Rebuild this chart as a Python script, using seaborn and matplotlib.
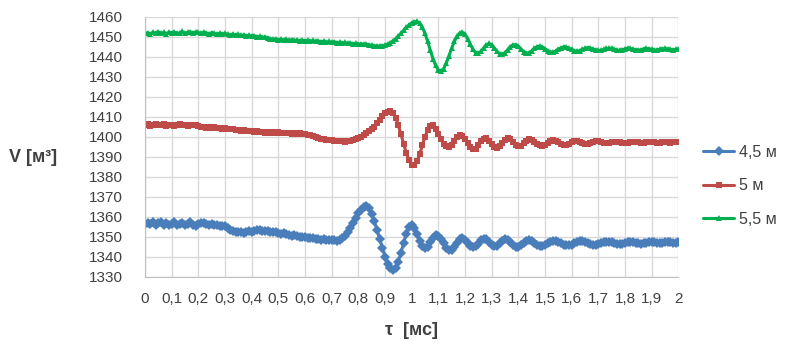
import numpy as np
import pandas as pd
import matplotlib
matplotlib.use("Agg")
import matplotlib.pyplot as plt
import seaborn as sns

# time axis, ms (step 0.01)
t = np.round(np.arange(0, 201) * 0.01, 2)

v_45 = [
    1356.5, 1357.0, 1356.2, 1357.3, 1356.0, 1356.8, 1357.5, 1356.1, 1356.9, 1355.8,
    1356.6, 1357.2, 1355.9, 1356.4, 1357.0, 1355.7, 1356.3, 1357.4, 1356.0, 1355.6,
    1356.2, 1356.9, 1357.1, 1356.3, 1355.8, 1356.5, 1356.0, 1355.9, 1355.4, 1355.6,
    1355.2, 1354.5, 1353.6, 1352.9, 1352.5, 1352.2, 1352.6, 1352.1, 1352.4, 1352.8,
    1352.5, 1353.0, 1353.2, 1353.4, 1353.0, 1352.7, 1352.9, 1352.5, 1352.6, 1352.2,
    1352.0, 1351.6, 1351.8, 1351.2, 1350.8, 1350.5, 1350.9, 1350.4, 1350.1, 1349.8,
    1350.0, 1349.6, 1349.3, 1349.5, 1349.0, 1348.8, 1348.6, 1348.9, 1348.4, 1348.5,
    1348.2, 1348.4, 1348.1, 1348.6, 1349.2, 1350.6, 1352.5, 1354.6, 1357.0, 1359.4,
    1361.8, 1363.6, 1365.0, 1365.4, 1364.2, 1361.5, 1357.8, 1353.5, 1349.0, 1344.5,
    1340.0, 1336.6, 1334.3, 1333.3, 1334.4, 1337.6, 1342.0, 1347.0, 1351.6, 1354.8,
    1355.8, 1354.6, 1351.6, 1348.0, 1345.2, 1344.2, 1345.0, 1347.2, 1349.6, 1350.9,
    1350.6, 1349.0, 1346.8, 1344.6, 1343.4, 1343.6, 1345.0, 1347.0, 1348.8, 1349.3,
    1348.4, 1346.8, 1345.3, 1344.8, 1345.2, 1346.6, 1348.2, 1349.1, 1348.9, 1347.5,
    1346.0, 1345.3, 1345.6, 1346.8, 1348.1, 1348.8, 1348.4, 1347.2, 1345.8, 1345.0,
    1345.1, 1345.9, 1347.1, 1348.0, 1348.3, 1347.8, 1346.9, 1346.0, 1345.5, 1345.4,
    1345.9, 1346.8, 1347.6, 1348.0, 1348.1, 1347.6, 1346.8, 1346.1, 1345.8, 1345.7,
    1346.1, 1346.8, 1347.4, 1347.8, 1347.9, 1347.5, 1346.9, 1346.4, 1346.1, 1346.1,
    1346.4, 1346.9, 1347.4, 1347.6, 1347.6, 1347.2, 1346.8, 1346.5, 1346.4, 1346.6,
    1347.0, 1347.4, 1347.5, 1347.3, 1347.0, 1346.7, 1346.6, 1346.8, 1347.1, 1347.4,
    1347.4, 1347.2, 1346.9, 1346.8, 1347.0, 1347.3, 1347.5, 1347.4, 1347.1, 1347.0,
    1347.2,
]

v_5 = [
    1405.8, 1406.2, 1405.5, 1405.9, 1406.3, 1405.6, 1405.8, 1406.1, 1405.4, 1405.9,
    1406.0, 1405.5, 1405.8, 1406.2, 1405.6, 1405.9, 1405.3, 1405.7, 1406.0, 1405.8,
    1405.2, 1404.6, 1405.0, 1404.5, 1404.9, 1404.4, 1404.7, 1404.2, 1404.5, 1404.0,
    1404.3, 1403.9, 1403.6, 1403.8, 1403.3, 1403.5, 1403.0, 1403.2, 1402.8, 1402.6,
    1402.9, 1402.4, 1402.6, 1402.2, 1402.5, 1402.0, 1402.3, 1401.9, 1402.2, 1401.8,
    1402.1, 1401.7, 1402.0, 1401.6, 1401.9, 1401.5, 1401.8, 1401.4, 1401.7, 1401.3,
    1401.4, 1401.0, 1400.6, 1400.1, 1399.8, 1399.4, 1399.0, 1398.7, 1398.5, 1398.3,
    1398.2, 1398.0, 1397.9, 1397.7, 1397.6, 1397.5, 1397.6, 1397.8, 1398.1, 1398.6,
    1399.2, 1399.9, 1400.7, 1401.6, 1402.6, 1403.7, 1405.0, 1406.6, 1408.4, 1410.2,
    1411.6, 1412.4, 1412.6, 1411.8, 1409.5, 1405.8, 1401.2, 1396.4, 1391.8, 1388.2,
    1386.0, 1385.8, 1387.6, 1391.2, 1395.6, 1400.0, 1403.4, 1405.4, 1405.6, 1404.0,
    1401.4, 1398.6, 1396.4, 1395.2, 1395.0, 1396.0, 1397.8, 1399.6, 1400.6, 1400.4,
    1398.8, 1396.6, 1394.6, 1393.6, 1394.0, 1395.6, 1397.6, 1399.0, 1399.2, 1398.0,
    1396.2, 1394.8, 1394.4, 1395.3, 1396.9, 1398.4, 1399.1, 1398.6, 1397.3, 1395.9,
    1395.2, 1395.5, 1396.6, 1397.9, 1398.6, 1398.4, 1397.5, 1396.4, 1395.7, 1395.5,
    1395.9, 1396.8, 1397.7, 1398.1, 1397.9, 1397.2, 1396.5, 1396.0, 1396.0, 1396.5,
    1397.2, 1397.7, 1397.8, 1397.4, 1396.8, 1396.4, 1396.3, 1396.7, 1397.2, 1397.6,
    1397.6, 1397.2, 1396.8, 1396.6, 1396.8, 1397.2, 1397.5, 1397.5, 1397.2, 1396.9,
    1396.8, 1397.0, 1397.3, 1397.5, 1397.4, 1397.1, 1396.9, 1396.9, 1397.2, 1397.4,
    1397.4, 1397.1, 1396.9, 1397.0, 1397.3, 1397.4, 1397.2, 1397.0, 1397.1, 1397.3,
    1397.2,
]

v_55 = [
    1451.6, 1452.0, 1451.4, 1452.2, 1451.8, 1452.5, 1451.7, 1452.1, 1451.5, 1452.3,
    1451.9, 1452.4, 1451.6, 1452.0, 1452.6, 1451.8, 1452.2, 1452.5, 1451.9, 1452.4,
    1452.1, 1451.7, 1452.3, 1451.9, 1451.5, 1452.0, 1451.6, 1451.3, 1451.8, 1451.4,
    1451.6, 1451.2, 1451.0, 1451.4, 1450.8, 1451.1, 1450.6, 1450.9, 1450.4, 1450.7,
    1450.3, 1450.5, 1450.0, 1450.2, 1449.7, 1449.9, 1449.4, 1449.0, 1448.7, 1448.9,
    1448.5, 1448.8, 1448.3, 1448.6, 1448.2, 1448.5, 1448.1, 1448.4, 1448.0, 1448.3,
    1447.9, 1448.2, 1447.8, 1448.1, 1447.6, 1447.9, 1447.5, 1447.8, 1447.3, 1447.6,
    1447.2, 1447.5, 1447.0, 1447.3, 1446.9, 1447.1, 1446.7, 1446.9, 1446.5, 1446.7,
    1446.3, 1446.5, 1446.1, 1446.3, 1445.9, 1445.7, 1445.5, 1445.4, 1445.3, 1445.5,
    1445.8, 1446.3, 1447.0, 1447.9, 1449.0, 1450.3, 1451.7, 1453.2, 1454.6, 1455.9,
    1456.9, 1457.5, 1457.6, 1456.8, 1454.8, 1451.6, 1447.6, 1443.2, 1439.0, 1435.6,
    1433.4, 1432.8, 1434.0, 1436.8, 1440.4, 1444.2, 1447.6, 1450.2, 1451.8, 1452.2,
    1451.2, 1449.0, 1446.2, 1443.6, 1442.0, 1441.7, 1442.6, 1444.3, 1445.9, 1446.6,
    1446.0, 1444.4, 1442.6, 1441.4, 1441.2, 1442.0, 1443.5, 1445.0, 1445.9, 1446.0,
    1445.2, 1443.8, 1442.5, 1441.8, 1442.0, 1442.9, 1444.1, 1445.0, 1445.3, 1444.9,
    1444.0, 1443.0, 1442.4, 1442.3, 1442.8, 1443.6, 1444.4, 1444.9, 1444.8, 1444.3,
    1443.6, 1443.0, 1442.8, 1443.0, 1443.6, 1444.2, 1444.5, 1444.4, 1443.9, 1443.4,
    1443.1, 1443.2, 1443.6, 1444.1, 1444.3, 1444.1, 1443.7, 1443.3, 1443.2, 1443.5,
    1443.9, 1444.2, 1444.1, 1443.8, 1443.4, 1443.3, 1443.5, 1443.9, 1444.1, 1444.0,
    1443.7, 1443.4, 1443.4, 1443.7, 1444.0, 1444.1, 1443.9, 1443.6, 1443.5, 1443.7,
    1443.8,
]

series_names = ["4,5 м", "5 м", "5,5 м"]
colors = ["#4A7EBB", "#BE4B48", "#00B050"]
markers = ["D", "s", "^"]

x_ticks = np.round(np.arange(0, 21) * 0.1, 1)
x_labels = [("%g" % v).replace(".", ",") for v in x_ticks]
y_ticks = list(range(1330, 1461, 10))

df = pd.concat([
    pd.DataFrame({"t": t, "V": v_45, "series": series_names[0]}),
    pd.DataFrame({"t": t, "V": v_5, "series": series_names[1]}),
    pd.DataFrame({"t": t, "V": v_55, "series": series_names[2]}),
])

sns.set_style("white")
plt.rcParams["font.family"] = ["Liberation Sans", "DejaVu Sans"]

fig = plt.figure(figsize=(7.94, 3.52), dpi=100)
ax = fig.add_axes([0.1826, 0.2139, 0.6717, 0.7387])

sns.lineplot(data=df, x="t", y="V", hue="series", style="series",
             palette=colors, markers=markers, dashes=False,
             hue_order=series_names, style_order=series_names,
             linewidth=2.2, markersize=5, markeredgewidth=0, ax=ax)

ax.set_xlim(0, 2)
ax.set_ylim(1330, 1460)
ax.set_xticks(x_ticks)
ax.set_xticklabels(x_labels)
ax.set_yticks(y_ticks)
ax.grid(True, color="#D9D9D9", linewidth=1.0)
ax.set_axisbelow(True)
for s in ["top", "right"]:
    ax.spines[s].set_visible(False)
for s in ["left", "bottom"]:
    ax.spines[s].set_color("#BFBFBF")
ax.tick_params(axis="both", length=4, color="#BFBFBF", labelsize=11,
               labelcolor="#404040")
ax.tick_params(axis="x", pad=7)
ax.tick_params(axis="y", pad=12)

ax.set_xlabel("τ  [мс]", fontsize=13, fontweight="bold", color="#404040")
ax.xaxis.set_label_coords(0.5, -0.175)
ax.set_ylabel("V [м³]", fontsize=13, fontweight="bold", color="#404040",
              rotation=0, va="center")
ax.yaxis.set_label_coords(-0.21, 0.46)

leg = ax.legend(loc="center left", bbox_to_anchor=(1.035, 0.35), frameon=False,
                labelspacing=1.15, handlelength=1.9, handletextpad=0.35,
                borderaxespad=0, prop={"size": 11.5})
for txt in leg.get_texts():
    txt.set_color("#404040")

fig.savefig("out.png", dpi=100)
